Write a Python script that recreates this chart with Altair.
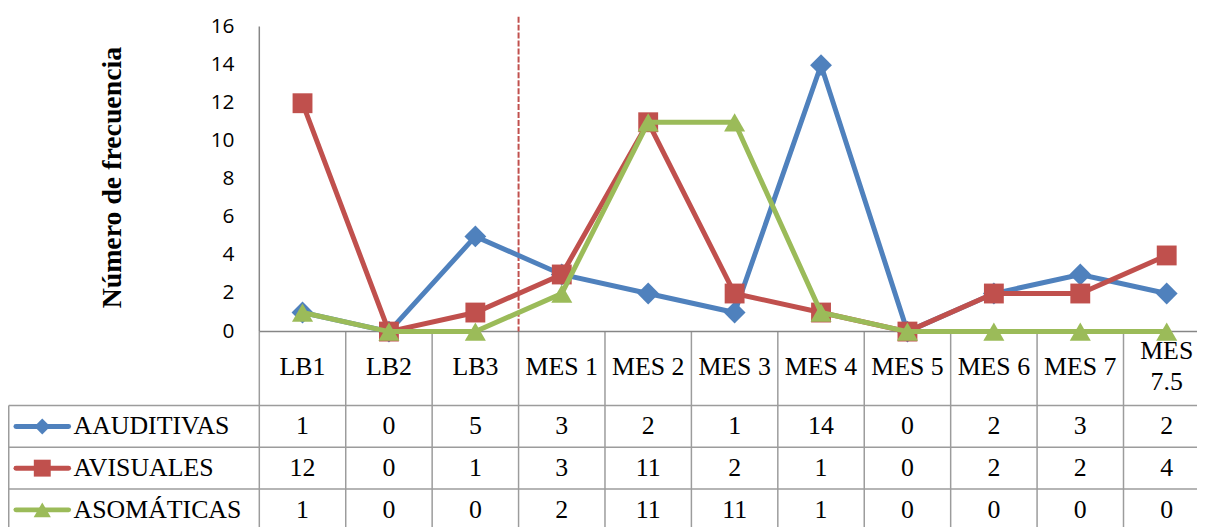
import altair as alt
import pandas as pd

# ---------------- data ----------------
cats = ["LB1", "LB2", "LB3", "MES 1", "MES 2", "MES 3", "MES 4", "MES 5", "MES 6", "MES 7", "MES 7.5"]
series = ["AAUDITIVAS", "AVISUALES", "ASOMÁTICAS"]
aauditivas = [1, 0, 5, 3, 2, 1, 14, 0, 2, 3, 2]
avisuales = [12, 0, 1, 3, 11, 2, 1, 0, 2, 2, 4]
asomaticas = [1, 0, 0, 2, 11, 11, 1, 0, 0, 0, 0]
y_ticks = [0, 2, 4, 6, 8, 10, 12, 14, 16]
y_title = "Número de frecuencia"
divider_after = "LB3"

colors = ["#4F81BD", "#C0504D", "#9BBB59"]
shapes = ["diamond", "square", "triangle-up"]
point_sizes = [484, 400, 450]
legend_sizes = [256, 290, 300]

# ---------------- layout ----------------
W, H = 1197, 519
X_RANGE = [253, 1210]
Y_RANGE = [324, 17.5]
T_RANGE = [398.5, 524.5]
GRID = "#9c9c9c"
SERIF = "Liberation Serif"

values_by_series = [aauditivas, avisuales, asomaticas]
rows = []
for s_i, (name, vals) in enumerate(zip(series, values_by_series)):
    for c_i, (c, v) in enumerate(zip(cats, vals)):
        rows.append({"series": name, "cat": c, "xc": c_i + 0.5, "value": v,
                     "label": str(v), "ty": s_i + 0.5})
df = pd.DataFrame(rows)

cat_df = pd.DataFrame({
    "cat": cats,
    "xc": [i + 0.5 for i in range(len(cats))],
    "wrap": [len(c) > 6 for c in cats],
})
cat_single = cat_df[~cat_df["wrap"]].assign(header=lambda d: d["cat"])
cat_wrapped = cat_df[cat_df["wrap"]].assign(header=lambda d: d["cat"].str.replace(" ", "\n"))

edge_df = pd.DataFrame({"xc": list(range(len(cats) + 1))})
row_edge_df = pd.DataFrame({"ty": list(range(len(series) + 1))})
tick_df = pd.DataFrame({"value": y_ticks, "label": [str(t) for t in y_ticks]})
one = pd.DataFrame({"k": [0]})
div_df = pd.DataFrame({"xc": [cats.index(divider_after) + 1]})
leg_df = pd.DataFrame({"series": series, "ty": [i + 0.5 for i in range(len(series))]})
title_df = pd.DataFrame({"t": [y_title]})


def X(field="xc"):
    return alt.X(f"{field}:Q", scale=alt.Scale(domain=[0, len(cats)], range=X_RANGE,
                                               nice=False, zero=False), axis=None)


def YV(field="value"):
    return alt.Y(f"{field}:Q", scale=alt.Scale(domain=[0, 16], range=Y_RANGE,
                                               nice=False, zero=False), axis=None)


def YT(field="ty"):
    return alt.Y(f"{field}:Q", scale=alt.Scale(domain=[0, len(series)], range=T_RANGE,
                                               nice=False, zero=False), axis=None)


layers = []

# table borders
layers.append(alt.Chart(edge_df).mark_rule(color=GRID, strokeWidth=1.5).encode(
    x=X(), y=alt.value(324), y2=alt.value(H + 20)))
layers.append(alt.Chart(row_edge_df).mark_rule(color=GRID, strokeWidth=1.5).encode(
    y=YT(), x=alt.value(0.75), x2=alt.value(W + 20)))
layers.append(alt.Chart(one).mark_rule(color=GRID, strokeWidth=1.5).encode(
    x=alt.value(0.75), y=alt.value(398.5), y2=alt.value(H + 20)))
# axes lines
layers.append(alt.Chart(one).mark_rule(color="#868686", strokeWidth=1.5).encode(
    x=alt.value(253), y=alt.value(17), y2=alt.value(324)))
layers.append(alt.Chart(one).mark_rule(color="#868686", strokeWidth=1.5).encode(
    y=alt.value(324), x=alt.value(253), x2=alt.value(W + 20)))

# divider
layers.append(alt.Chart(div_df).mark_rule(color="#C0504D", strokeWidth=2, strokeDash=[6, 2]).encode(
    x=X(), y=alt.value(7), y2=alt.value(324)))

# y tick labels
layers.append(alt.Chart(tick_df).mark_text(font="Open Sans", fontSize=21, align="right",
                                           baseline="middle", color="black").encode(
    x=alt.value(228), y=YV(), text="label:N"))

# y title
layers.append(alt.Chart(title_df).mark_text(font=SERIF, fontSize=28, fontWeight="bold", angle=270,
                                            align="center", baseline="middle", color="black").encode(
    x=alt.value(106), y=alt.value(169), text="t:N"))

# series lines and markers
for name, col, shp, sz in zip(series, colors, shapes, point_sizes):
    sub = df[df["series"] == name]
    layers.append(alt.Chart(sub).mark_line(color=col, strokeWidth=5).encode(
        x=X(), y=YV()))
    layers.append(alt.Chart(sub).mark_point(color=col, filled=True, opacity=1, shape=shp, size=sz).encode(
        x=X(), y=YV()))

# category header
layers.append(alt.Chart(cat_single).mark_text(font=SERIF, fontSize=26, align="center", baseline="middle",
                                              color="black").encode(
    x=X(), y=alt.value(359.5), text="header:N"))
layers.append(alt.Chart(cat_wrapped).mark_text(font=SERIF, fontSize=26, align="center", baseline="middle",
                                               lineBreak="\n", lineHeight=31, color="black").encode(
    x=X(), y=alt.value(343.5), text="header:N"))

# table values
layers.append(alt.Chart(df).mark_text(font=SERIF, fontSize=26, align="center", baseline="middle",
                                      color="black").encode(
    x=X(), y=YT(), text="label:N"))

# legend keys
for i, (name, col, shp, sz) in enumerate(zip(series, colors, shapes, legend_sizes)):
    sub = leg_df[leg_df["series"] == name]
    layers.append(alt.Chart(sub).mark_rule(color=col, strokeWidth=5, strokeCap="round").encode(
        x=alt.value(8), x2=alt.value(61), y=YT()))
    layers.append(alt.Chart(sub).mark_point(color=col, filled=True, opacity=1, shape=shp, size=sz).encode(
        x=alt.value(34.5), y=YT()))
    layers.append(alt.Chart(sub).mark_text(font=SERIF, fontSize=26, align="left", baseline="middle",
                                           color="black").encode(
        x=alt.value(66), y=YT(), text="series:N"))

chart = alt.layer(*layers).resolve_scale(y="independent").properties(
    width=W, height=H,
    autosize=alt.AutoSizeParams(type="none"),
    padding=0,
).configure_view(stroke=None)

chart.save("out.html", embed_options={"renderer": "svg", "actions": False})
